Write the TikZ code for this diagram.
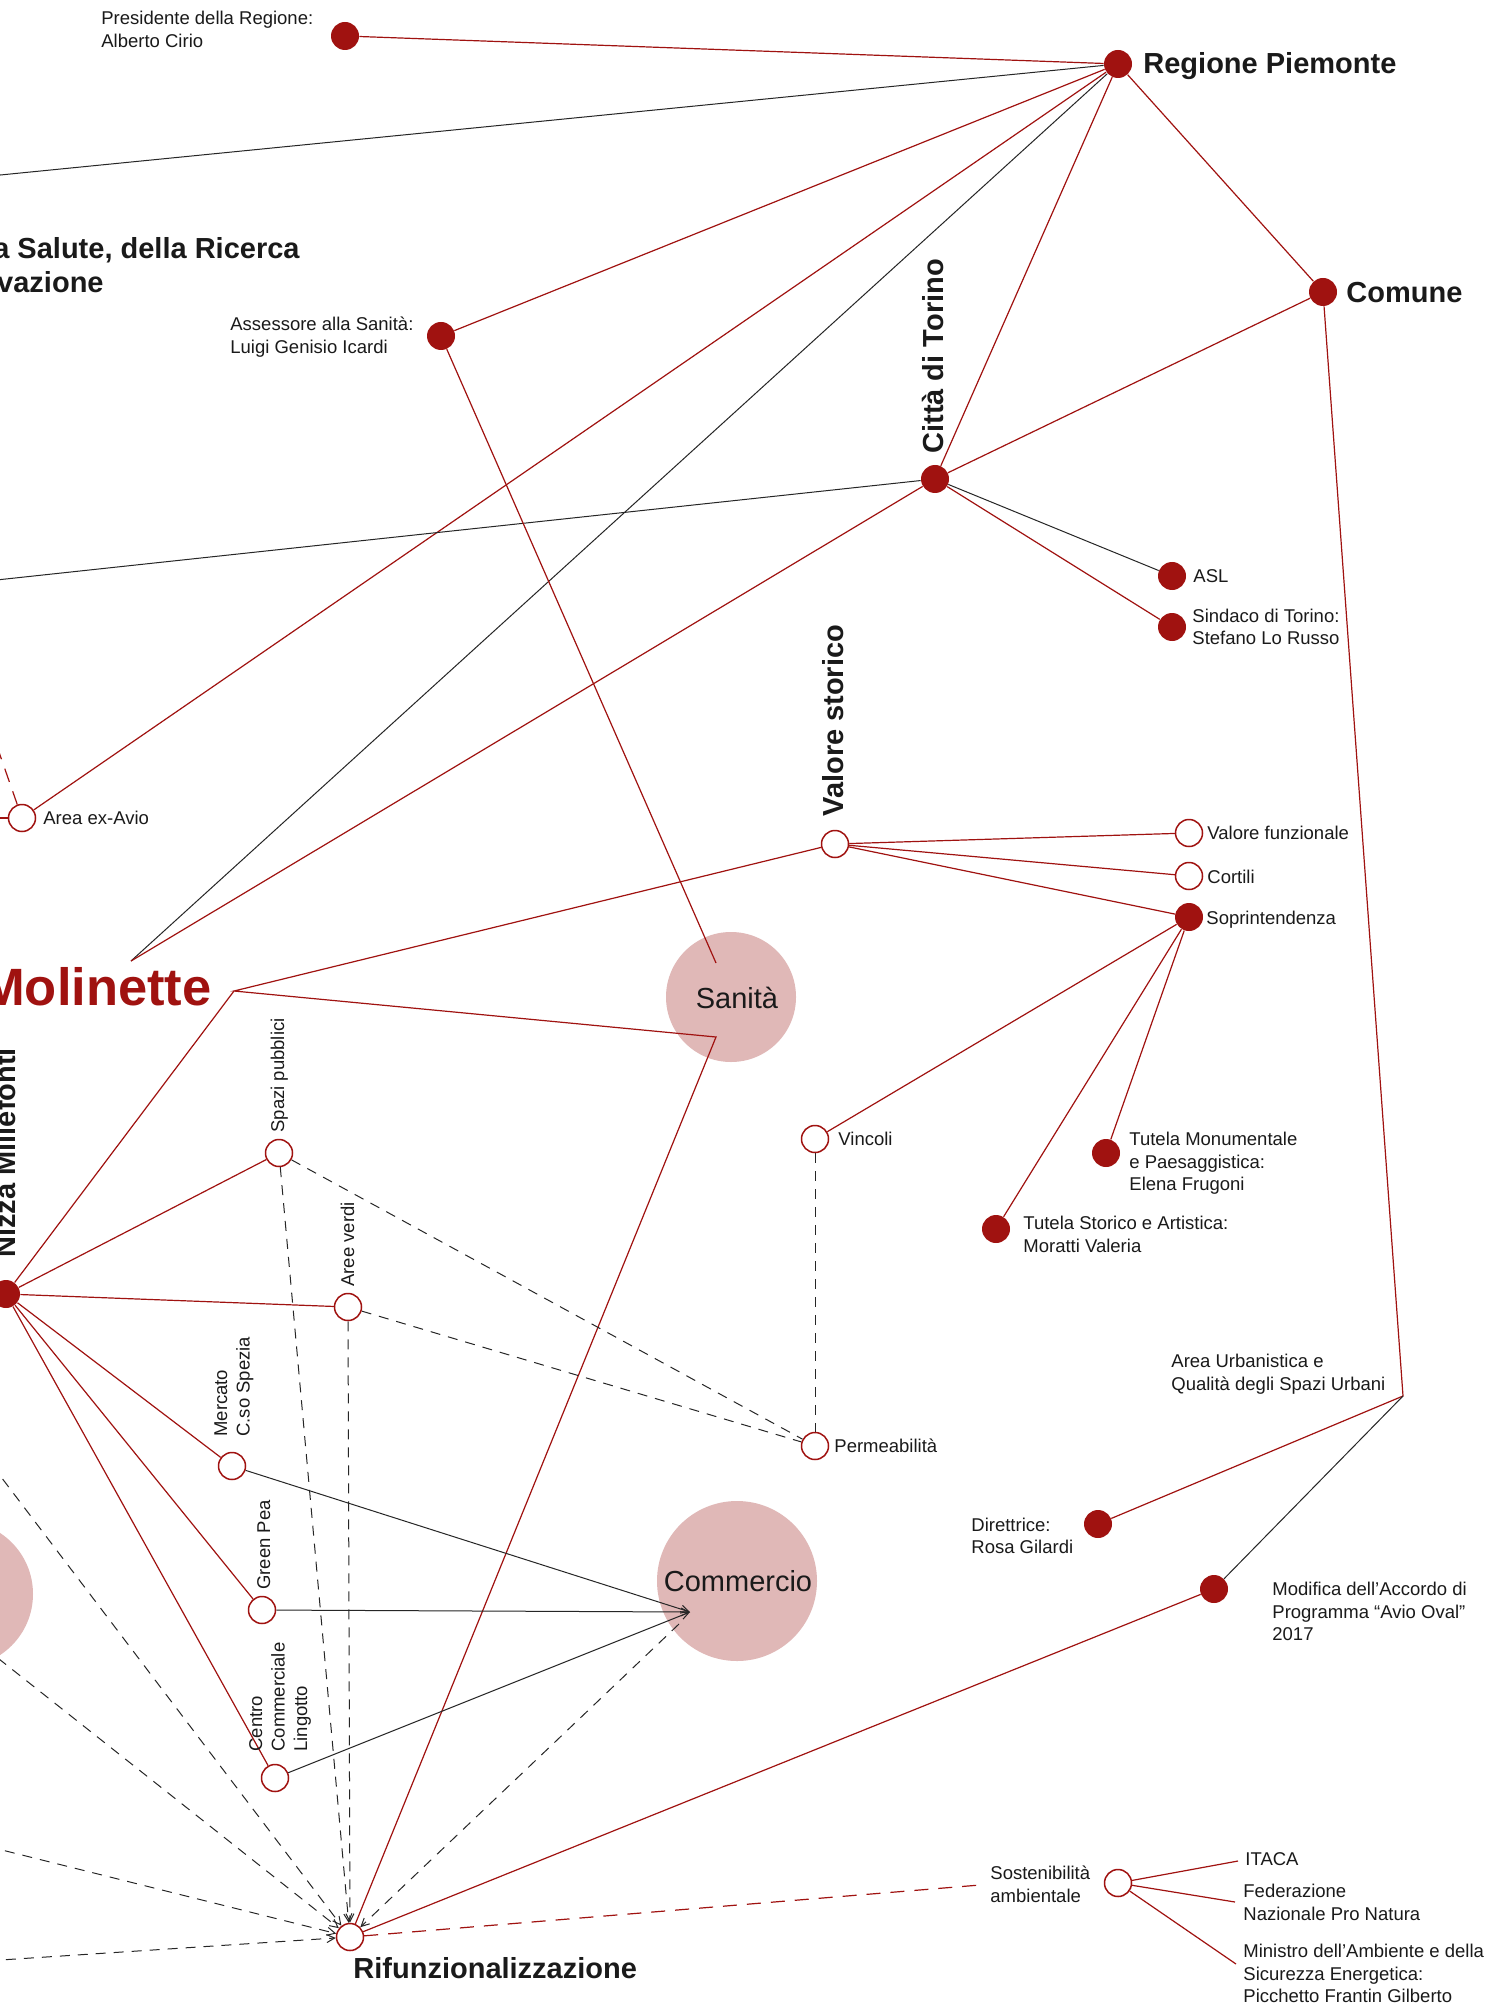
\documentclass[tikz,border=0pt]{standalone}
\usepackage{fontspec}
\setmainfont{Liberation Sans}
\usetikzlibrary{arrows.meta,backgrounds}
\definecolor{accent}{RGB}{160,18,16}
\definecolor{blush}{RGB}{224,184,183}
\definecolor{ink}{RGB}{26,26,26}
\definecolor{wire}{RGB}{38,38,38}
\begin{document}
\begin{tikzpicture}[x=0.5pt,y=-0.5pt,
  fdot/.style={circle,fill=accent,inner sep=0pt,minimum size=14pt},
  odot/.style={circle,draw=accent,fill=white,line width=0.75pt,inner sep=0pt,minimum size=13.5pt},
  hub/.style={circle,fill=blush,inner sep=0pt},
  lbl/.style={font=\fontsize{9.25}{11.25}\selectfont,text=ink,align=left,inner sep=0pt,anchor=base west},
  big/.style={font=\fontsize{14.5}{17}\selectfont\bfseries,text=ink,align=left,inner sep=0pt,anchor=base west},
  hubtext/.style={font=\fontsize{14.5}{17}\selectfont,text=ink,inner sep=0pt},
  vlbl/.style={lbl,rotate=90},
  vbig/.style={big,rotate=90},
  rl/.style={draw=accent,line width=0.6pt},
  bl/.style={draw=wire,line width=0.5pt},
  rdash/.style={rl,dash pattern=on 7pt off 5pt},
  bdash/.style={bl,dash pattern=on 5pt off 4pt},
  tip/.style={-{Straight Barb[length=4pt,width=4pt]}},
]
\useasboundingbox (0,0) rectangle (1504,2005);
\clip (0,0) rectangle (1504,2005);

% free ends and bends
\coordinate (offA) at (-50,180);
\coordinate (offB) at (-50,585);
\coordinate (offC) at (-22,692);
\coordinate (offD) at (-30,818);
\coordinate (offE) at (-30,1436);
\coordinate (offF) at (-30,1636);
\coordinate (offG) at (-30,1842);
\coordinate (offH) at (-30,1962);
\coordinate (molA) at (131,961);
\coordinate (molC) at (234,991);
\coordinate (sanA) at (716,963);
\coordinate (sanB) at (716,1037);
\coordinate (comP) at (690,1612);
\coordinate (comQ) at (679,1624);
\coordinate (urb) at (1403,1396);
\coordinate (sostE) at (980,1885);
\coordinate (itE) at (1238,1861);
\coordinate (fedE) at (1235,1902);
\coordinate (minE) at (1236,1964);

% actors (filled) and themes (open)
\node[fdot] (pres) at (345,36) {};
\node[fdot] (reg) at (1118,64) {};
\node[fdot] (com) at (1323,292) {};
\node[fdot] (ass) at (441,336) {};
\node[fdot] (citta) at (935,479) {};
\node[fdot] (asl) at (1172,576) {};
\node[fdot] (sind) at (1172,627) {};
\node[odot] (avio) at (22,818) {};
\node[odot] (vstor) at (835,844) {};
\node[odot] (vfun) at (1189,833) {};
\node[odot] (cort) at (1189,876) {};
\node[fdot] (sopr) at (1189,917) {};
\node[odot] (vinc) at (815,1139) {};
\node[fdot] (tmon) at (1106,1153) {};
\node[fdot] (tsto) at (996,1229) {};
\node[fdot] (dir) at (1098,1524) {};
\node[fdot] (mod) at (1214,1589) {};
\node[odot] (perm) at (815,1446) {};
\node[odot] (sost) at (1118,1883) {};
\node[odot] (rif) at (350,1937) {};
\node[odot] (spazi) at (279,1153) {};
\node[odot] (aree) at (348,1307) {};
\node[odot] (merc) at (232,1466) {};
\node[odot] (green) at (262,1610) {};
\node[odot] (centro) at (275,1778) {};
\node[fdot] (nizza) at (6,1294) {};

% large topic circles, behind everything
\begin{scope}[on background layer]
\fill[white] (0,0) rectangle (1504,2005);
\node[hub,minimum size=65pt] (sanita) at (731,997) {};
\node[hub,minimum size=80pt] (commercio) at (737,1581) {};
\node[hub,minimum size=73pt] (lefthub) at (-40,1594) {};
\end{scope}

% connectors
\begin{scope}[on background layer]
\draw[rl] (reg) -- (pres);
\draw[bl] (reg) -- (offA);
\draw[rl] (reg) -- (ass);
\draw[rl] (reg) -- (avio);
\draw[bl] (reg) -- (molA);
\draw[rl] (reg) -- (citta);
\draw[rl] (reg) -- (com);
\draw[bl] (citta) -- (offB);
\draw[rl] (citta) -- (molA);
\draw[rl] (citta) -- (com);
\draw[bl] (citta) -- (asl);
\draw[rl] (citta) -- (sind);
\draw[rl] (com) -- (urb) -- (dir);
\draw[bl] (urb) -- (mod);
\draw[rl] (ass) -- (sanA);
\draw[rl] (vstor) -- (molC) -- (sanB) -- (rif);
\draw[rl] (molC) -- (nizza);
\draw[rl] (vstor) -- (vfun);
\draw[rl] (vstor) -- (cort);
\draw[rl] (vstor) -- (sopr);
\draw[rl] (sopr) -- (vinc);
\draw[rl] (sopr) -- (tmon);
\draw[rl] (sopr) -- (tsto);
\draw[rl] (nizza) -- (spazi);
\draw[rl] (nizza) -- (aree);
\draw[rl] (nizza) -- (merc);
\draw[rl] (nizza) -- (green);
\draw[rl] (nizza) -- (centro);
\draw[rdash] (avio) -- (offC);
\draw[rdash] (avio) -- (offD);
\draw[bdash] (spazi) -- (perm);
\draw[bdash] (aree) -- (perm);
\draw[bdash] (vinc) -- (perm);
\draw[bdash,tip] (spazi) -- (rif);
\draw[bdash,tip] (aree) -- (rif);
\draw[bdash,tip] (offE) -- (rif);
\draw[bdash,tip] (offF) -- (rif);
\draw[bdash,tip] (offG) -- (rif);
\draw[bdash,tip] (offH) -- (rif);
\draw[bdash,tip] (comQ) -- (rif);
\draw[bl,tip] (merc) -- (comP);
\draw[bl,tip] (green) -- (comP);
\draw[bl,tip] (centro) -- (comP);
\draw[rl] (rif) -- (mod);
\draw[rdash] (rif) -- (sostE);
\draw[rl] (sost) -- (itE);
\draw[rl] (sost) -- (fedE);
\draw[rl] (sost) -- (minE);
\end{scope}

% labels (multi-line labels are placed by the baseline of their last line)
\node[lbl] (presL) at (101,47.5) {Presidente della Regione:\\Alberto Cirio};
\node[big] (regL) at (1143,74) {Regione Piemonte};
\node[big] (comL) at (1346,303) {Comune};
\node[big,anchor=base east] (salL1) at (300,259) {a Salute, della Ricerca};
\node[big,anchor=base east] (salL2) at (104,293) {vazione};
\node[lbl] (assL) at (230,353.5) {Assessore alla Sanità:\\Luigi Genisio Icardi};
\node[vbig] (cittaL) at (943,454) {Città di Torino};
\node[lbl] (aslL) at (1193,582) {ASL};
\node[lbl] (sindL) at (1192,644.5) {Sindaco di Torino:\\Stefano Lo Russo};
\node[lbl] (avioL) at (43,824) {Area ex-Avio};
\node[vbig] (vstorL) at (843,817) {Valore storico};
\node[lbl] (vfunL) at (1207,839) {Valore funzionale};
\node[lbl] (cortL) at (1207,883) {Cortili};
\node[lbl] (soprL) at (1206,924) {Soprintendenza};
\node[font=\fontsize{26.25}{30}\selectfont\bfseries,text=accent,inner sep=0pt,anchor=base east] (molL) at (212,1005) {Molinette};
\node[hubtext] (sanitaL) at (737,998) {Sanità};
\node[vbig] (nizzaL) at (15,1258) {Nizza Millefonti};
\node[vlbl] (spaziL) at (284,1133) {Spazi pubblici};
\node[vlbl] (areeL) at (354,1287) {Aree verdi};
\node[vlbl] (mercL) at (249.5,1437) {Mercato\\C.so Spezia};
\node[vlbl] (greenL) at (270,1590) {Green Pea};
\node[vlbl] (centroL) at (307,1752) {Centro\\Commerciale\\Lingotto};
\node[lbl] (vincL) at (838,1145) {Vincoli};
\node[lbl] (tmonL) at (1129,1190.5) {Tutela Monumentale\\e Paesaggistica:\\Elena Frugoni};
\node[lbl] (tstoL) at (1023,1252) {Tutela Storico e Artistica:\\Moratti Valeria};
\node[lbl] (urbL) at (1171,1390) {Area Urbanistica e\\Qualità degli Spazi Urbani};
\node[lbl] (permL) at (834,1452) {Permeabilità};
\node[lbl] (dirL) at (971,1553.5) {Direttrice:\\Rosa Gilardi};
\node[hubtext] (commercioL) at (738,1581) {Commercio};
\node[lbl] (modL) at (1272,1640.5) {Modifica dell’Accordo di\\Programma “Avio Oval”\\2017};
\node[lbl] (sostL) at (990,1902) {Sostenibilità\\ambientale};
\node[lbl] (itL) at (1245,1865) {ITACA};
\node[lbl] (fedL) at (1243,1920) {Federazione\\Nazionale Pro Natura};
\node[lbl] (minL) at (1243,2002.5) {Ministro dell’Ambiente e della\\Sicurezza Energetica:\\Picchetto Frantin Gilberto};
\node[big] (rifL) at (353,1978) {Rifunzionalizzazione};
\end{tikzpicture}
\end{document}
